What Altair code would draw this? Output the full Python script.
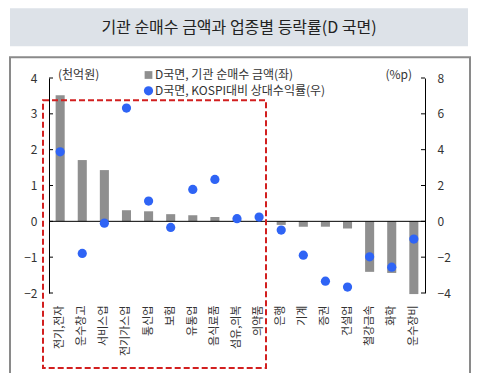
import altair as alt
import pandas as pd

categories = ["전기,전자", "운수창고", "서비스업", "전기가스업", "통신업", "보험", "유통업",
              "음식료품", "섬유,의복", "의약품", "은행", "기계", "증권", "건설업",
              "철강금속", "화학", "운수장비"]
net_buy = [3.52, 1.71, 1.43, 0.31, 0.28, 0.20, 0.17, 0.12, 0.02, 0.01,
           -0.10, -0.15, -0.15, -0.20, -1.41, -1.44, -2.03]
rel_return = [3.88, -1.79, -0.10, 6.32, 1.13, -0.34, 1.78, 2.34, 0.15, 0.24,
              -0.49, -1.89, -3.34, -3.67, -1.98, -2.56, -0.99]
left_ticks = [-2, -1, 0, 1, 2, 3, 4]
right_ticks = [-4, -2, 0, 2, 4, 6, 8]

title_text = "기관 순매수 금액과 업종별 등락률(D 국면)"
legend_bar = "D국면, 기관 순매수 금액(좌)"
legend_dot = "D국면, KOSPI대비 상대수익률(우)"
left_unit = "(천억원)"
right_unit = "(%p)"

FONT = "Noto Sans CJK KR"
W, H = 376, 215
BAR_C = "#8f8f8f"
DOT_C = "#2f64f5"

df = pd.DataFrame({"cat": categories, "amt": net_buy, "ret": rel_return})
dummy = pd.DataFrame({"a": [0]})

left_scale = alt.Scale(domain=[-2, 4], nice=False, zero=False)
right_scale = alt.Scale(domain=[-4, 8], nice=False, zero=False)

xenc = alt.X("cat:N", sort=categories,
             scale=alt.Scale(paddingInner=0.59, paddingOuter=0.3),
             axis=alt.Axis(title=None, labelAngle=-90, ticks=False, domain=False,
                           labelPadding=12, labelFontSize=11, labelFont=FONT,
                           labelColor="#333333"))

common_axis = dict(title=None, ticks=False, grid=False, labelPadding=12,
                   labelFontSize=12, labelFont=FONT, labelColor="#333333",
                   domainColor="black", domainWidth=1)

bg = alt.Chart(dummy).mark_rect(color="#dde2e8").encode(
    x=alt.value(-39), x2=alt.value(419), y=alt.value(-69.7), y2=alt.value(-31.7))
title = alt.Chart(dummy).mark_text(text=title_text, font=FONT, fontSize=16,
                                   color="#222222", align="center", baseline="middle").encode(
    x=alt.value(190), y=alt.value(-50.5))
frame = alt.Chart(dummy).mark_rect(fill=None, stroke="#8a8a8a", strokeWidth=2).encode(
    x=alt.value(-39), x2=alt.value(421), y=alt.value(-20.7), y2=alt.value(297))

bars = alt.Chart(df).mark_bar(color=BAR_C).encode(
    x=xenc,
    y=alt.Y("amt:Q", scale=left_scale,
            axis=alt.Axis(orient="left", values=left_ticks, **common_axis)))

zero = alt.Chart(pd.DataFrame({"v": [0]})).mark_rule(color="black").encode(
    y=alt.Y("v:Q", scale=left_scale, axis=None), x=alt.value(0), x2=alt.value(W))

lt = alt.Chart(pd.DataFrame({"v": left_ticks})).mark_rule(color="black").encode(
    y=alt.Y("v:Q", scale=left_scale, axis=None), x=alt.value(0), x2=alt.value(4))
rt = alt.Chart(pd.DataFrame({"v": right_ticks})).mark_rule(color="black").encode(
    y=alt.Y("v:Q", scale=right_scale, axis=None), x=alt.value(W - 4), x2=alt.value(W))

dots = alt.Chart(df).mark_circle(size=85, color=DOT_C, opacity=1).encode(
    x=xenc,
    y=alt.Y("ret:Q", scale=right_scale,
            axis=alt.Axis(orient="right", values=right_ticks, **common_axis)))

leg_sq = alt.Chart(dummy).mark_square(size=60, color=BAR_C, opacity=1).encode(
    x=alt.value(99.5), y=alt.value(-3))
leg_ci = alt.Chart(dummy).mark_circle(size=85, color=DOT_C, opacity=1).encode(
    x=alt.value(99.5), y=alt.value(12.8))
leg_t1 = alt.Chart(dummy).mark_text(text=legend_bar, font=FONT, fontSize=12, color="#333333",
                                    align="left", baseline="middle").encode(
    x=alt.value(106), y=alt.value(-3))
leg_t2 = alt.Chart(dummy).mark_text(text=legend_dot, font=FONT, fontSize=12, color="#333333",
                                    align="left", baseline="middle").encode(
    x=alt.value(106), y=alt.value(12.8))
unit_l = alt.Chart(dummy).mark_text(text=left_unit, font=FONT, fontSize=12, color="#333333",
                                    align="left", baseline="middle").encode(
    x=alt.value(9), y=alt.value(-3))
unit_r = alt.Chart(dummy).mark_text(text=right_unit, font=FONT, fontSize=12, color="#333333",
                                    align="right", baseline="middle").encode(
    x=alt.value(363), y=alt.value(-3))

redbox = alt.Chart(dummy).mark_rect(fill=None, stroke="#d21f1f", strokeWidth=2,
                                    strokeDash=[6, 3]).encode(
    x=alt.value(-6), x2=alt.value(217), y=alt.value(22.3), y2=alt.value(290))

chart = alt.layer(
    bg, title, frame, bars, zero, lt, rt, dots,
    leg_sq, leg_ci, leg_t1, leg_t2, unit_l, unit_r, redbox
).resolve_scale(y="independent").properties(
    width=W, height=H,
    autosize=alt.AutoSizeParams(type="none"),
    padding={"left": 41, "top": 70, "right": 46, "bottom": 80},
    background="white",
).configure_view(stroke=None)

chart.save("out.html", embed_options={"renderer": "svg", "actions": False})
